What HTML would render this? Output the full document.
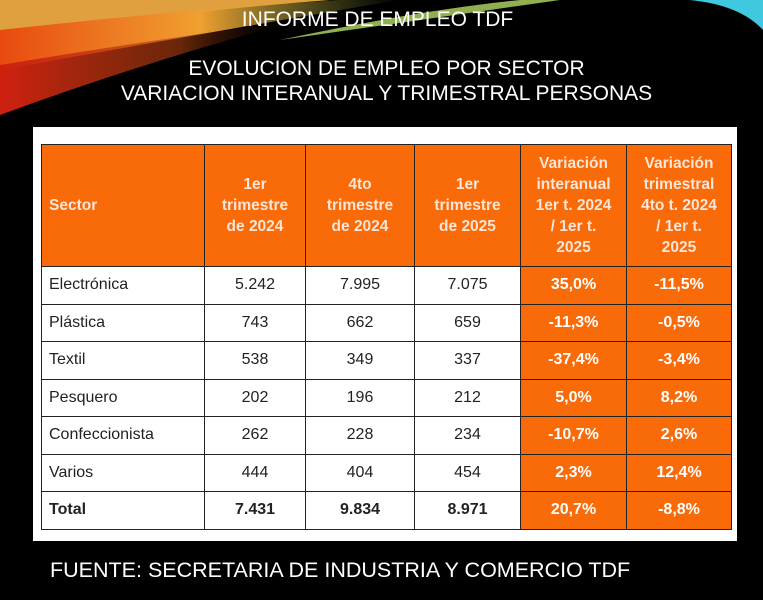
<!DOCTYPE html>
<html><head><style>
body{margin:0;width:763px;height:600px;overflow:hidden;background:#000;position:relative;font-family:"Liberation Sans",sans-serif}
.t{position:absolute;color:#fff;text-align:center;width:763px;left:0;font-size:21px;line-height:24px}
.panel{position:absolute;left:33px;top:127px;width:704px;height:414px;background:#fff}
table{position:absolute;left:41px;top:144px;border-collapse:collapse;table-layout:fixed;width:690px;font-size:16px;color:#222}
td,th{border:1.5px solid #222;padding:0;box-sizing:border-box}
th{background:#f96a08;color:#fde6d8;font-weight:bold;height:122px;font-size:15.5px;line-height:21px}
td{height:37.5px;text-align:center}
td.s{text-align:left;padding-left:7px}
td.o{background:#f96a08;color:#fff;font-weight:bold}
tr.tot td{font-weight:bold}
</style></head><body>
<svg width="763" height="140" style="position:absolute;left:0;top:0">
<defs>
<linearGradient id="g1" x1="0" y1="0" x2="1" y2="0"><stop offset="0" stop-color="#e84a10"/><stop offset=".5" stop-color="#f0a030"/><stop offset="1" stop-color="#80a040" stop-opacity="0"/></linearGradient>
<linearGradient id="g2" x1="0" y1="0" x2="1" y2="0"><stop offset="0" stop-color="#d02010"/><stop offset=".6" stop-color="#b04010" stop-opacity=".6"/><stop offset="1" stop-color="#000" stop-opacity="0"/></linearGradient>
</defs>
<path d="M0 0 L330 0 Q200 10 0 35 Z" fill="#e0a040"/>
<path d="M0 30 Q200 8 340 0 L400 0 Q250 25 0 70 Z" fill="url(#g1)"/>
<path d="M0 65 Q150 40 300 20 Q150 60 0 115 Z" fill="url(#g2)"/>
<path d="M280 40 Q420 10 520 0 L560 0 Q420 20 280 40Z" fill="#90b050"/>
<path d="M690 0 L763 0 L763 30 Q740 5 690 0Z" fill="#40c8e0"/>
</svg>
<div class="t" style="top:8px;left:-4px">INFORME DE EMPLEO TDF</div>
<div class="t" style="top:57px;left:5px">EVOLUCION DE EMPLEO POR SECTOR</div>
<div class="t" style="top:82px;left:5px">VARIACION INTERANUAL Y TRIMESTRAL PERSONAS</div>
<div class="panel"></div>
<table>
<colgroup><col style="width:163px"><col style="width:101px"><col style="width:109px"><col style="width:106px"><col style="width:106px"><col style="width:105px"></colgroup>
<tr><th style="text-align:left;padding-left:7px">Sector</th><th>1er<br>trimestre<br>de 2024</th><th>4to<br>trimestre<br>de 2024</th><th>1er<br>trimestre<br>de 2025</th><th>Variación<br>interanual<br>1er t. 2024<br>/ 1er t.<br>2025</th><th>Variación<br>trimestral<br>4to t. 2024<br>/ 1er t.<br>2025</th></tr>
<tr><td class="s">Electrónica</td><td>5.242</td><td>7.995</td><td>7.075</td><td class="o">35,0%</td><td class="o">-11,5%</td></tr>
<tr><td class="s">Plástica</td><td>743</td><td>662</td><td>659</td><td class="o">-11,3%</td><td class="o">-0,5%</td></tr>
<tr><td class="s">Textil</td><td>538</td><td>349</td><td>337</td><td class="o">-37,4%</td><td class="o">-3,4%</td></tr>
<tr><td class="s">Pesquero</td><td>202</td><td>196</td><td>212</td><td class="o">5,0%</td><td class="o">8,2%</td></tr>
<tr><td class="s">Confeccionista</td><td>262</td><td>228</td><td>234</td><td class="o">-10,7%</td><td class="o">2,6%</td></tr>
<tr><td class="s">Varios</td><td>444</td><td>404</td><td>454</td><td class="o">2,3%</td><td class="o">12,4%</td></tr>
<tr class="tot"><td class="s">Total</td><td>7.431</td><td>9.834</td><td>8.971</td><td class="o">20,7%</td><td class="o">-8,8%</td></tr>
</table>
<div class="t" style="top:558px;left:50px;width:auto;text-align:left;font-size:21.5px">FUENTE: SECRETARIA DE INDUSTRIA Y COMERCIO TDF</div>
</body></html>
